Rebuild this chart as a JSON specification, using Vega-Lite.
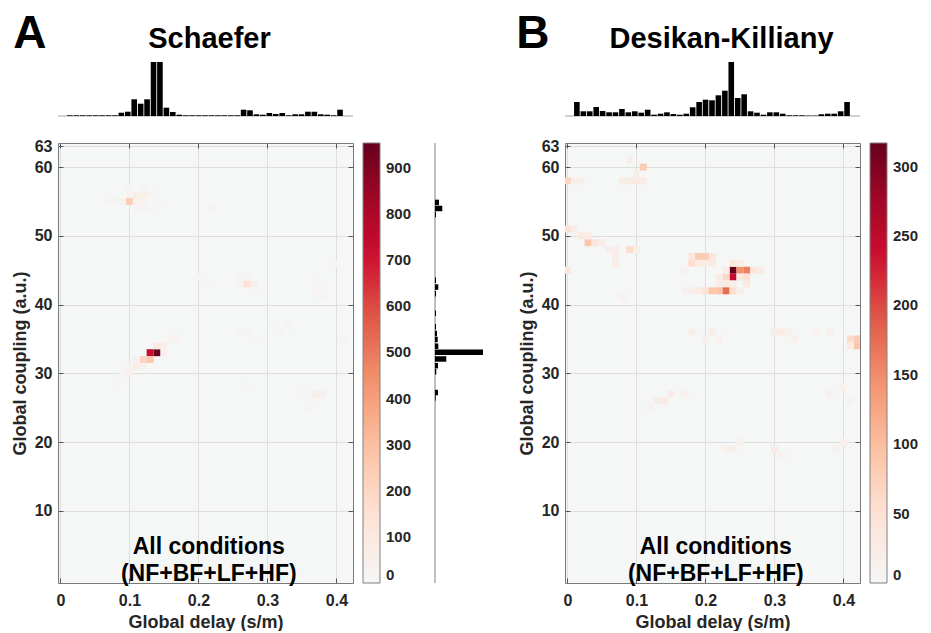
{
"$schema": "https://vega.github.io/schema/vega-lite/v6.json",
"padding": {"left": 11, "top": 10, "right": 0, "bottom": 0},
"background": "white",
"datasets": {
"histA": [
{"delay":0.0068,"count":0.7},{"delay":0.0165,"count":0.7},{"delay":0.0261,"count":0.7},{"delay":0.0358,"count":0.7},{"delay":0.0454,"count":0.7},{"delay":0.0551,"count":0.7},{"delay":0.0647,"count":0.7},{"delay":0.0744,"count":0.7},{"delay":0.084,"count":3.3},{"delay":0.0937,"count":4.3},{"delay":0.1033,"count":16.7},{"delay":0.113,"count":12.3},{"delay":0.1226,"count":16.7},{"delay":0.1323,"count":54},{"delay":0.1419,"count":54},{"delay":0.1516,"count":8.3},{"delay":0.1612,"count":4},{"delay":0.1709,"count":1.3},{"delay":0.1805,"count":0.7},{"delay":0.1902,"count":0.7},{"delay":0.1998,"count":0.7},{"delay":0.2095,"count":0.7},{"delay":0.2191,"count":0.7},{"delay":0.2288,"count":0.7},{"delay":0.2384,"count":0.7},{"delay":0.2481,"count":0.7},{"delay":0.2577,"count":0.7},{"delay":0.2674,"count":6.3},{"delay":0.277,"count":5.7},{"delay":0.2867,"count":1.7},{"delay":0.2963,"count":1.3},{"delay":0.306,"count":3},{"delay":0.3156,"count":2},{"delay":0.3253,"count":3},{"delay":0.3349,"count":0.7},{"delay":0.3446,"count":1.7},{"delay":0.3542,"count":1.7},{"delay":0.3639,"count":4.3},{"delay":0.3735,"count":4.3},{"delay":0.3832,"count":1.7},{"delay":0.3928,"count":1.3},{"delay":0.4025,"count":0.7},{"delay":0.4121,"count":6.3}
],
"histB": [
{"delay":0.0068,"count":14},{"delay":0.0165,"count":4.7},{"delay":0.0261,"count":4.7},{"delay":0.0358,"count":9},{"delay":0.0454,"count":5},{"delay":0.0551,"count":3.7},{"delay":0.0647,"count":3.7},{"delay":0.0744,"count":7},{"delay":0.084,"count":3.7},{"delay":0.0937,"count":4.7},{"delay":0.1033,"count":3.3},{"delay":0.113,"count":6.3},{"delay":0.1226,"count":1.3},{"delay":0.1323,"count":2.3},{"delay":0.1419,"count":3.7},{"delay":0.1516,"count":2},{"delay":0.1612,"count":1.3},{"delay":0.1709,"count":2.3},{"delay":0.1805,"count":8.7},{"delay":0.1902,"count":14},{"delay":0.1998,"count":16.3},{"delay":0.2095,"count":15.7},{"delay":0.2191,"count":20.7},{"delay":0.2288,"count":25.3},{"delay":0.2384,"count":54},{"delay":0.2481,"count":18},{"delay":0.2577,"count":21.7},{"delay":0.2674,"count":4.7},{"delay":0.277,"count":3.3},{"delay":0.2867,"count":1.3},{"delay":0.2963,"count":3.7},{"delay":0.306,"count":3.7},{"delay":0.3156,"count":2.3},{"delay":0.3253,"count":0.7},{"delay":0.3349,"count":0.7},{"delay":0.3446,"count":0.7},{"delay":0.3542,"count":0.4},{"delay":0.3639,"count":0.4},{"delay":0.3735,"count":1.7},{"delay":0.3832,"count":2.3},{"delay":0.3928,"count":2.3},{"delay":0.4025,"count":4.7},{"delay":0.4121,"count":14}
],
"margA": [
{"coupling":55.4,"count":4},{"coupling":54.5,"count":7.3},{"coupling":53.6,"count":1},{"coupling":43.8,"count":1},{"coupling":42.8,"count":3.3},{"coupling":41.8,"count":1},{"coupling":38.9,"count":1},{"coupling":36.9,"count":1},{"coupling":35.9,"count":2},{"coupling":35.0,"count":2.7},{"coupling":34.0,"count":3.3},{"coupling":33.1,"count":48},{"coupling":32.1,"count":11.3},{"coupling":31.1,"count":3},{"coupling":30.2,"count":1.3},{"coupling":27.1,"count":3},{"coupling":26.3,"count":0.7}
],
"heatA": [
{"delay":0.14,"coupling":33,"count":954},{"delay":0.13,"coupling":33,"count":725},{"delay":0.12,"coupling":32,"count":210},{"delay":0.13,"coupling":32,"count":260},{"delay":0.14,"coupling":34,"count":90},{"delay":0.15,"coupling":34,"count":70},{"delay":0.15,"coupling":33,"count":50},{"delay":0.16,"coupling":35,"count":30},{"delay":0.17,"coupling":35,"count":25},{"delay":0.11,"coupling":32,"count":40},{"delay":0.11,"coupling":31,"count":70},{"delay":0.12,"coupling":31,"count":35},{"delay":0.10,"coupling":30,"count":40},{"delay":0.10,"coupling":31,"count":25},{"delay":0.09,"coupling":29,"count":25},{"delay":0.09,"coupling":30,"count":20},{"delay":0.08,"coupling":28,"count":15},
{"delay":0.10,"coupling":55,"count":240},{"delay":0.09,"coupling":55,"count":35},{"delay":0.08,"coupling":55,"count":20},{"delay":0.11,"coupling":55,"count":45},{"delay":0.12,"coupling":55,"count":30},{"delay":0.11,"coupling":56,"count":70},{"delay":0.12,"coupling":56,"count":55},{"delay":0.13,"coupling":56,"count":30},{"delay":0.10,"coupling":56,"count":30},{"delay":0.14,"coupling":55,"count":20},{"delay":0.11,"coupling":54,"count":25},{"delay":0.12,"coupling":54,"count":20},{"delay":0.13,"coupling":54,"count":15},{"delay":0.10,"coupling":57,"count":15},{"delay":0.12,"coupling":57,"count":15},{"delay":0.07,"coupling":55,"count":15},
{"delay":0.27,"coupling":43,"count":150},{"delay":0.28,"coupling":43,"count":60},{"delay":0.27,"coupling":44,"count":30},{"delay":0.28,"coupling":42,"count":20},{"delay":0.26,"coupling":43,"count":20},{"delay":0.26,"coupling":44,"count":15},{"delay":0.20,"coupling":44,"count":15},{"delay":0.21,"coupling":43,"count":10},{"delay":0.22,"coupling":54,"count":15},{"delay":0.37,"coupling":44,"count":15},{"delay":0.37,"coupling":42,"count":20},{"delay":0.40,"coupling":46,"count":10},
{"delay":0.26,"coupling":36,"count":15},{"delay":0.27,"coupling":36,"count":20},{"delay":0.28,"coupling":35,"count":20},{"delay":0.31,"coupling":37,"count":25},{"delay":0.32,"coupling":36,"count":25},{"delay":0.33,"coupling":37,"count":15},{"delay":0.41,"coupling":35,"count":20},{"delay":0.27,"coupling":28,"count":10},{"delay":0.35,"coupling":27,"count":20},{"delay":0.36,"coupling":26,"count":20},{"delay":0.37,"coupling":27,"count":60},{"delay":0.38,"coupling":27,"count":45},{"delay":0.36,"coupling":25,"count":15},{"delay":0.38,"coupling":43,"count":15},{"delay":0.38,"coupling":41,"count":15}
],
"heatB": [
{"delay":0.24,"coupling":45,"count":317},{"delay":0.24,"coupling":44,"count":245},{"delay":0.25,"coupling":45,"count":145},{"delay":0.26,"coupling":45,"count":160},{"delay":0.23,"coupling":44,"count":65},{"delay":0.25,"coupling":44,"count":35},{"delay":0.26,"coupling":44,"count":50},{"delay":0.26,"coupling":43,"count":35},{"delay":0.23,"coupling":43,"count":30},{"delay":0.22,"coupling":43,"count":25},{"delay":0.22,"coupling":44,"count":25},{"delay":0.27,"coupling":45,"count":40},{"delay":0.28,"coupling":45,"count":25},{"delay":0.24,"coupling":46,"count":35},{"delay":0.25,"coupling":46,"count":25},{"delay":0.23,"coupling":45,"count":25},{"delay":0.24,"coupling":43,"count":20},
{"delay":0.17,"coupling":42,"count":15},{"delay":0.18,"coupling":42,"count":20},{"delay":0.19,"coupling":42,"count":25},{"delay":0.20,"coupling":42,"count":50},{"delay":0.21,"coupling":42,"count":90},{"delay":0.22,"coupling":42,"count":95},{"delay":0.23,"coupling":42,"count":175},{"delay":0.24,"coupling":42,"count":55},{"delay":0.25,"coupling":42,"count":20},
{"delay":0.18,"coupling":47,"count":40},{"delay":0.19,"coupling":47,"count":85},{"delay":0.20,"coupling":47,"count":80},{"delay":0.21,"coupling":47,"count":40},{"delay":0.18,"coupling":46,"count":55},{"delay":0.19,"coupling":46,"count":30},{"delay":0.20,"coupling":46,"count":25},{"delay":0.21,"coupling":46,"count":30},{"delay":0.17,"coupling":45,"count":15},
{"delay":0.11,"coupling":60,"count":80},{"delay":0.10,"coupling":59,"count":20},{"delay":0.09,"coupling":61,"count":20},{"delay":0.00,"coupling":58,"count":70},{"delay":0.01,"coupling":58,"count":20},{"delay":0.02,"coupling":58,"count":15},{"delay":0.08,"coupling":58,"count":25},{"delay":0.09,"coupling":58,"count":25},{"delay":0.10,"coupling":58,"count":30},{"delay":0.11,"coupling":58,"count":25},
{"delay":0.00,"coupling":51,"count":50},{"delay":0.01,"coupling":51,"count":20},{"delay":0.03,"coupling":49,"count":90},{"delay":0.02,"coupling":50,"count":35},{"delay":0.03,"coupling":50,"count":25},{"delay":0.04,"coupling":49,"count":40},{"delay":0.05,"coupling":49,"count":20},{"delay":0.06,"coupling":48,"count":20},{"delay":0.07,"coupling":48,"count":20},{"delay":0.09,"coupling":48,"count":55},{"delay":0.10,"coupling":48,"count":20},{"delay":0.00,"coupling":45,"count":40},{"delay":0.07,"coupling":46,"count":30},{"delay":0.07,"coupling":47,"count":20},{"delay":0.08,"coupling":41,"count":15},
{"delay":0.41,"coupling":35,"count":60},{"delay":0.42,"coupling":35,"count":80},{"delay":0.42,"coupling":34,"count":90},{"delay":0.41,"coupling":34,"count":30},{"delay":0.31,"coupling":36,"count":30},{"delay":0.30,"coupling":36,"count":20},{"delay":0.32,"coupling":36,"count":15},{"delay":0.36,"coupling":36,"count":15},{"delay":0.38,"coupling":36,"count":15},{"delay":0.18,"coupling":36,"count":20},{"delay":0.21,"coupling":36,"count":25},{"delay":0.20,"coupling":35,"count":15},{"delay":0.22,"coupling":35,"count":15},{"delay":0.33,"coupling":35,"count":15},
{"delay":0.14,"coupling":26,"count":30},{"delay":0.15,"coupling":27,"count":25},{"delay":0.13,"coupling":26,"count":20},{"delay":0.12,"coupling":25,"count":15},{"delay":0.17,"coupling":27,"count":15},{"delay":0.23,"coupling":19,"count":15},{"delay":0.24,"coupling":19,"count":20},{"delay":0.25,"coupling":20,"count":15},{"delay":0.30,"coupling":19,"count":25},{"delay":0.31,"coupling":18,"count":15},{"delay":0.39,"coupling":19,"count":15},{"delay":0.40,"coupling":20,"count":15},{"delay":0.38,"coupling":27,"count":15},{"delay":0.40,"coupling":28,"count":15},{"delay":0.41,"coupling":26,"count":15}
]
},
"columns": 3,
"align": "each",
"spacing": {"row": 21, "column": 22},
"concat": [
{
"width": 295, "height": 54,
"layer": [
{"data": {"values": [{}]}, "mark": {"type": "rule", "color": "#a6a6a6", "strokeWidth": 1},
 "encoding": {"y": {"datum": 0, "type": "quantitative", "scale": {"domain": [0, 54], "nice": false},
  "axis": {"title": "A", "labels": false, "ticks": false, "domain": false, "grid": false, "titleAngle": 0, "titleFontSize": 46, "titleColor": "black", "titleAlign": "right", "titleBaseline": "alphabetic", "titleX": -12, "titleY": -14.7}}}},
{"data": {"name": "histA"}, "mark": {"type": "bar", "orient": "vertical", "size": 5.6, "color": "black", "clip": true},
 "encoding": {
  "x": {"field": "delay", "type": "quantitative", "scale": {"domain": [-0.0035, 0.424], "nice": false, "zero": false},
   "axis": {"orient": "top", "title": "Schaefer", "labels": false, "ticks": false, "domain": false, "grid": false, "titleFontSize": 29, "titleColor": "black", "titleBaseline": "alphabetic", "titleX": 151, "titleY": -14.7}},
  "y": {"field": "count", "type": "quantitative", "scale": {"domain": [0, 54], "nice": false},
   "axis": {"title": "A", "labels": false, "ticks": false, "domain": false, "grid": false, "titleAngle": 0, "titleFontSize": 46, "titleColor": "black", "titleAlign": "right", "titleBaseline": "alphabetic", "titleX": -12, "titleY": -14.7}}}}
]
},
{"width": 58, "height": 54, "data": {"values": []}, "mark": "point", "encoding": {}},
{
"width": 295, "height": 54,
"layer": [
{"data": {"values": [{}]}, "mark": {"type": "rule", "color": "#a6a6a6", "strokeWidth": 1},
 "encoding": {"y": {"datum": 0, "type": "quantitative", "scale": {"domain": [0, 54], "nice": false},
  "axis": {"title": "B", "labels": false, "ticks": false, "domain": false, "grid": false, "titleAngle": 0, "titleFontSize": 46, "titleColor": "black", "titleAlign": "right", "titleBaseline": "alphabetic", "titleX": -16, "titleY": -14.7}}}},
{"data": {"name": "histB"}, "mark": {"type": "bar", "orient": "vertical", "size": 5.6, "color": "black", "clip": true},
 "encoding": {
  "x": {"field": "delay", "type": "quantitative", "scale": {"domain": [-0.0035, 0.424], "nice": false, "zero": false},
   "axis": {"orient": "top", "title": "Desikan-Killiany", "labels": false, "ticks": false, "domain": false, "grid": false, "titleFontSize": 29, "titleColor": "black", "titleBaseline": "alphabetic", "titleX": 156, "titleY": -14.7}},
  "y": {"field": "count", "type": "quantitative", "scale": {"domain": [0, 54], "nice": false},
   "axis": {"title": "B", "labels": false, "ticks": false, "domain": false, "grid": false, "titleAngle": 0, "titleFontSize": 46, "titleColor": "black", "titleAlign": "right", "titleBaseline": "alphabetic", "titleX": -16, "titleY": -14.7}}}}
]
},
{
"width": 295, "height": 440,
"view": {"fill": "#f5f6f6", "stroke": null},
"layer": [
{"data": {"name": "heatA"}, "mark": {"type": "square", "size": 48, "opacity": 1, "clip": true},
 "encoding": {
  "x": {"field": "delay", "type": "quantitative", "scale": {"domain": [-0.0035, 0.424], "nice": false, "zero": false},
   "axis": {"orient": "bottom", "values": [0, 0.1, 0.2, 0.3, 0.4], "format": "~g", "title": "Global delay (s/m)", "grid": true, "tickSize": -5, "labelPadding": 14, "titlePadding": 5, "labelFlush": false}},
  "y": {"field": "coupling", "type": "quantitative", "scale": {"domain": [-0.5, 63.5], "nice": false, "zero": false},
   "axis": {"orient": "left", "values": [10, 20, 30, 40, 50, 60, 63], "format": "d", "title": "Global coupling (a.u.)", "grid": true, "tickSize": -5, "labelPadding": 11, "titlePadding": 5, "labelFlush": false, "labelOverlap": false}},
  "color": {"field": "count", "type": "quantitative",
   "scale": {"domain": [0, 143, 286, 430, 572, 715, 840, 954], "range": ["#f5f6f6", "#fde3d7", "#fcc3a6", "#f49670", "#e05a48", "#cc0c2f", "#9e0626", "#67001f"], "interpolate": "rgb"},
   "legend": {"orient": "right", "offset": 9, "direction": "vertical", "gradientLength": 440, "gradientThickness": 17, "title": null, "values": [0, 100, 200, 300, 400, 500, 600, 700, 800, 900], "labelFontSize": 15, "labelFontWeight": "bold", "labelColor": "#262626", "labelOffset": 6, "padding": 0, "gradientStrokeColor": "#808080", "gradientStrokeWidth": 1, "labelOverlap": false, "encode": {"labels": {"update": {"baseline": {"value": "middle"}}}}}}}},
{"data": {"values": [{}]}, "mark": {"type": "text", "text": ["All conditions", "(NF+BF+LF+HF)"], "fontSize": 23, "fontWeight": "bold", "color": "black", "lineHeight": 27, "baseline": "middle", "align": "center"},
 "encoding": {
  "x": {"datum": 0.215, "type": "quantitative", "scale": {"domain": [-0.0035, 0.424], "nice": false, "zero": false},
   "axis": {"orient": "top", "values": [0, 0.1, 0.2, 0.3, 0.4], "labels": false, "title": null, "grid": false, "tickSize": -5}},
  "y": {"datum": 4.7, "type": "quantitative", "scale": {"domain": [-0.5, 63.5], "nice": false, "zero": false},
   "axis": {"orient": "right", "values": [10, 20, 30, 40, 50, 60, 63], "labels": false, "title": null, "grid": false, "tickSize": -5}}}}
],
"resolve": {"axis": {"x": "independent", "y": "independent"}}
},
{
"width": 58, "height": 440,
"layer": [
{"data": {"values": [{}]}, "mark": {"type": "rule", "color": "#808080", "strokeWidth": 1},
 "encoding": {"x": {"datum": 0, "type": "quantitative", "scale": {"domain": [0, 58], "nice": false}, "axis": null}}},
{"data": {"name": "margA"}, "mark": {"type": "bar", "orient": "horizontal", "size": 5.5, "color": "black"},
 "encoding": {
  "x": {"field": "count", "type": "quantitative", "scale": {"domain": [0, 58], "nice": false}, "axis": null},
  "y": {"field": "coupling", "type": "quantitative", "scale": {"domain": [-0.5, 63.5], "nice": false, "zero": false}, "axis": null}}}
]
},
{
"width": 295, "height": 440,
"view": {"fill": "#f5f6f6", "stroke": null},
"layer": [
{"data": {"name": "heatB"}, "mark": {"type": "square", "size": 48, "opacity": 1, "clip": true},
 "encoding": {
  "x": {"field": "delay", "type": "quantitative", "scale": {"domain": [-0.0035, 0.424], "nice": false, "zero": false},
   "axis": {"orient": "bottom", "values": [0, 0.1, 0.2, 0.3, 0.4], "format": "~g", "title": "Global delay (s/m)", "grid": true, "tickSize": -5, "labelPadding": 14, "titlePadding": 5, "labelFlush": false}},
  "y": {"field": "coupling", "type": "quantitative", "scale": {"domain": [-0.5, 63.5], "nice": false, "zero": false},
   "axis": {"orient": "left", "values": [10, 20, 30, 40, 50, 60, 63], "format": "d", "title": "Global coupling (a.u.)", "grid": true, "tickSize": -5, "labelPadding": 11, "titlePadding": 5, "labelFlush": false, "labelOverlap": false}},
  "color": {"field": "count", "type": "quantitative",
   "scale": {"domain": [0, 47.5, 95, 142.5, 190, 238, 279, 317], "range": ["#f5f6f6", "#fde3d7", "#fcc3a6", "#f49670", "#e05a48", "#cc0c2f", "#9e0626", "#67001f"], "interpolate": "rgb"},
   "legend": {"orient": "right", "offset": 9, "direction": "vertical", "gradientLength": 440, "gradientThickness": 17, "title": null, "values": [0, 50, 100, 150, 200, 250, 300], "labelFontSize": 15, "labelFontWeight": "bold", "labelColor": "#262626", "labelOffset": 6, "padding": 0, "gradientStrokeColor": "#808080", "gradientStrokeWidth": 1, "labelOverlap": false, "encode": {"labels": {"update": {"baseline": {"value": "middle"}}}}}}}},
{"data": {"values": [{}]}, "mark": {"type": "text", "text": ["All conditions", "(NF+BF+LF+HF)"], "fontSize": 23, "fontWeight": "bold", "color": "black", "lineHeight": 27, "baseline": "middle", "align": "center"},
 "encoding": {
  "x": {"datum": 0.215, "type": "quantitative", "scale": {"domain": [-0.0035, 0.424], "nice": false, "zero": false},
   "axis": {"orient": "top", "values": [0, 0.1, 0.2, 0.3, 0.4], "labels": false, "title": null, "grid": false, "tickSize": -5}},
  "y": {"datum": 4.7, "type": "quantitative", "scale": {"domain": [-0.5, 63.5], "nice": false, "zero": false},
   "axis": {"orient": "right", "values": [10, 20, 30, 40, 50, 60, 63], "labels": false, "title": null, "grid": false, "tickSize": -5}}}}
],
"resolve": {"axis": {"x": "independent", "y": "independent"}}
}
],
"resolve": {"scale": {"x": "independent", "y": "independent", "color": "independent"}, "legend": {"color": "independent"}, "axis": {"x": "independent", "y": "independent"}},
"config": {
"font": "Liberation Sans",
"view": {"stroke": null},
"axis": {"labelFont": "Liberation Sans", "labelFontWeight": "bold", "labelFontSize": 16, "labelColor": "#262626", "titleFont": "Liberation Sans", "titleFontWeight": "bold", "titleFontSize": 18, "titleColor": "#262626", "domainColor": "#7a7a7a", "tickColor": "#555555", "gridColor": "#dedede", "gridOpacity": 1},
"legend": {"labelFont": "Liberation Sans"},
"text": {"font": "Liberation Sans"}
}
}
